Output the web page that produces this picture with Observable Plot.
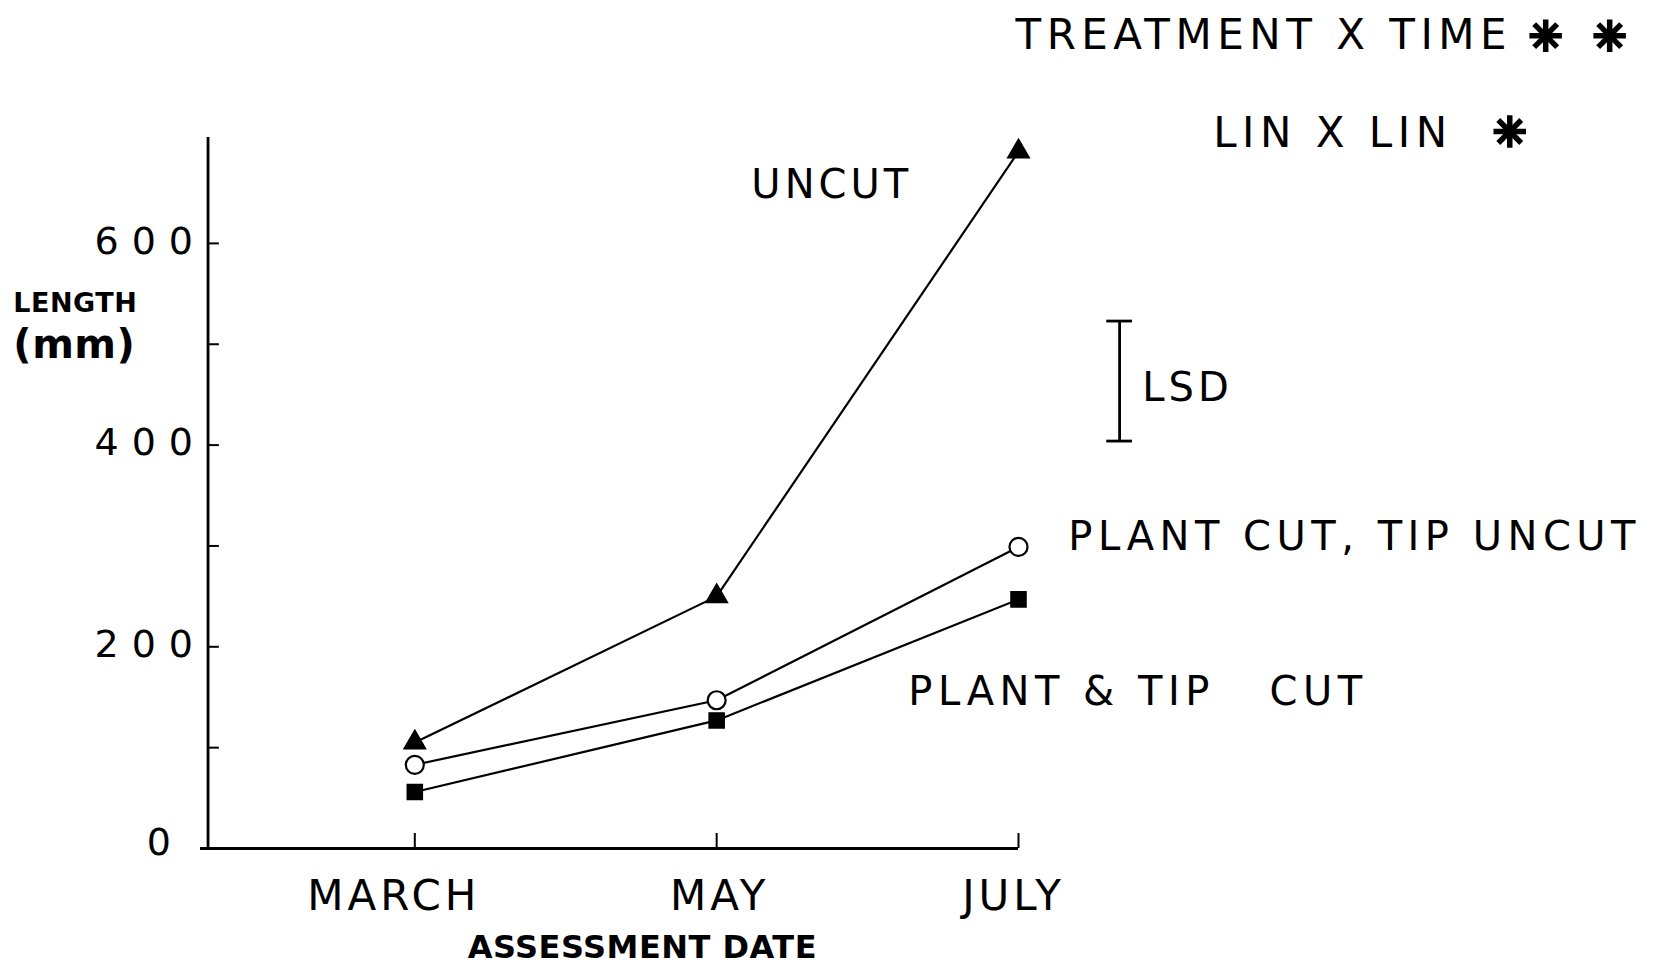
<!DOCTYPE html>
<html>
<head>
<meta charset="utf-8">
<script src="https://cdn.jsdelivr.net/npm/d3@7"></script>
<script src="https://cdn.jsdelivr.net/npm/@observablehq/plot@0.6"></script>
<style>
  body { margin: 0; background: #fff; }
  #chart svg { display: block; }
</style>
</head>
<body>
<div id="chart"></div>
<script>
// ---- data ----
const months = ["MARCH", "MAY", "JULY"];
const monthNum = [3, 5, 7];
const uncut = [105, 250, 691];
const plantCutTipUncut = [83, 147, 299];
const plantTipCut = [56, 127, 247];
const seriesNames = ["UNCUT", "PLANT CUT, TIP UNCUT", "PLANT & TIP CUT"];
const yMajorTicks = [0, 200, 400, 600];
const yAllTicks = [0, 100, 200, 300, 400, 500, 600];
const lsdRange = [404, 523];

// ---- build table ----
const seriesValues = [uncut, plantCutTipUncut, plantTipCut];
const rows = [];
seriesNames.forEach((s, si) => {
  monthNum.forEach((m, i) => rows.push({series: s, month: m, value: seriesValues[si][i]}));
});

const xDomain = [1.58, 7];
const yDomain = [0, 705];
const yAxisAt = xDomain[0] + 0.05;
const FONT = "'DejaVu Sans', sans-serif";
const monthLabelShift = [-21, 3, -5];
const NB = "\u00a0";

function asterisk(xs, y) {
  return [
    Plot.dot(xs, {x: d => d, y: () => y, symbol: "plus", r: 10.5, stroke: "black", strokeWidth: 5.5}),
    Plot.dot(xs, {x: d => d, y: () => y, symbol: "times", r: 10.5, stroke: "black", strokeWidth: 5.5}),
    Plot.dot(xs, {x: d => d, y: () => y, r: 6, fill: "black"})
  ];
}

const chart = Plot.plot({
  width: 1655,
  height: 969,
  marginLeft: 200,
  marginRight: 637,
  marginTop: 137,
  marginBottom: 121,
  style: {fontFamily: FONT, color: "black", background: "white"},
  x: {type: "linear", domain: xDomain, axis: null},
  y: {type: "linear", domain: yDomain, axis: null},
  marks: [
    // axis lines
    Plot.ruleX([yAxisAt], {y1: yDomain[0], y2: yDomain[1], stroke: "black", strokeWidth: 2.8}),
    Plot.ruleY([0], {x1: xDomain[0], x2: monthNum[monthNum.length - 1], stroke: "black", strokeWidth: 2.8}),
    // y ticks (inward) and labels
    Plot.ruleY(yAllTicks, {x1: yAxisAt, x2: yAxisAt + 0.075, stroke: "black", strokeWidth: 2}),
    Plot.text(yMajorTicks, {x: yAxisAt, y: d => d, text: d => String(d), textAnchor: "end", lineAnchor: "middle", fontSize: 38}),
    // x ticks (upward)
    Plot.axisX(monthNum, {anchor: "bottom", tickSize: -15, tickFormat: () => "", strokeWidth: 2, label: null}),
    // x month labels
    ...months.map((m, i) => Plot.text([m], {x: monthNum[i], y: 0, dy: 48, dx: monthLabelShift[i], lineAnchor: "middle", fontSize: 42})),
    // series lines
    Plot.line(rows, {x: "month", y: "value", z: "series", stroke: "black", strokeWidth: 2.2}),
    // markers
    Plot.dot(rows.filter(d => d.series === seriesNames[0]),
      {x: "month", y: "value", symbol: "triangle", r: 8, fill: "black", stroke: "black"}),
    Plot.dot(rows.filter(d => d.series === seriesNames[1]),
      {x: "month", y: "value", symbol: "circle", r: 9, fill: "white", stroke: "black", strokeWidth: 2.2}),
    Plot.dot(rows.filter(d => d.series === seriesNames[2]),
      {x: "month", y: "value", symbol: "square", r: 8.5, fill: "black", stroke: "black"}),
    // LSD bar
    Plot.ruleX([7.67], {y1: lsdRange[0], y2: lsdRange[1], stroke: "black", strokeWidth: 2.8}),
    Plot.ruleY(lsdRange, {x1: 7.585, x2: 7.755, stroke: "black", strokeWidth: 2.8}),
    Plot.text(["LSD"], {x: 7.82, y: 456, textAnchor: "start", lineAnchor: "middle", fontSize: 40}),
    // series labels
    Plot.text([seriesNames[0]], {x: 5.23, y: 658, textAnchor: "start", lineAnchor: "middle", fontSize: 40}),
    Plot.text(["PLANT CUT, TIP" + NB + "UNCUT"], {x: 7.33, y: 309, textAnchor: "start", lineAnchor: "middle", fontSize: 40}),
    Plot.text(["PLANT & TIP" + NB + NB + NB + "CUT"], {x: 6.27, y: 155, textAnchor: "start", lineAnchor: "middle", fontSize: 40}),
    // significance notes
    Plot.text(["TREATMENT X TIME"], {x: 6.98, y: 806, textAnchor: "start", lineAnchor: "middle", fontSize: 42}),
    ...asterisk([10.493, 10.917], 806),
    Plot.text(["LIN X LIN"], {x: 8.29, y: 709, textAnchor: "start", lineAnchor: "middle", fontSize: 42}),
    ...asterisk([10.255], 711),
    // axis titles
    Plot.text(["LENGTH"], {x: 0.34, y: 541, textAnchor: "start", lineAnchor: "middle", fontSize: 27, fontWeight: "bold"}),
    Plot.text(["(mm)"], {x: 0.34, y: 499, textAnchor: "start", lineAnchor: "middle", fontSize: 40, fontWeight: "bold"}),
    Plot.text(["ASSESSMENT DATE"], {x: 3.35, y: -98, textAnchor: "start", lineAnchor: "middle", fontSize: 32, fontWeight: "bold"})
  ]
});

document.getElementById("chart").appendChild(chart);

// letter spacing for the stencil-like lettering
d3.select(chart).selectAll("text").each(function() {
  const t = this.textContent;
  if (/^\d+$/.test(t)) { this.setAttribute("letter-spacing", "13"); this.setAttribute("dx", t === "0" ? "-24" : "-2"); this.setAttribute("dy", t === "0" ? "-6" : "-2"); }
  else if (t === "LENGTH" || t === "(mm)" || t === "ASSESSMENT DATE") this.setAttribute("letter-spacing", "0.5");
  else if (t === "TREATMENT X TIME" || t === "LIN X LIN") this.setAttribute("letter-spacing", "5.5");
  else if (t.startsWith("PLANT")) this.setAttribute("letter-spacing", "5.5");
  else this.setAttribute("letter-spacing", "4");
});
</script>
</body>
</html>
